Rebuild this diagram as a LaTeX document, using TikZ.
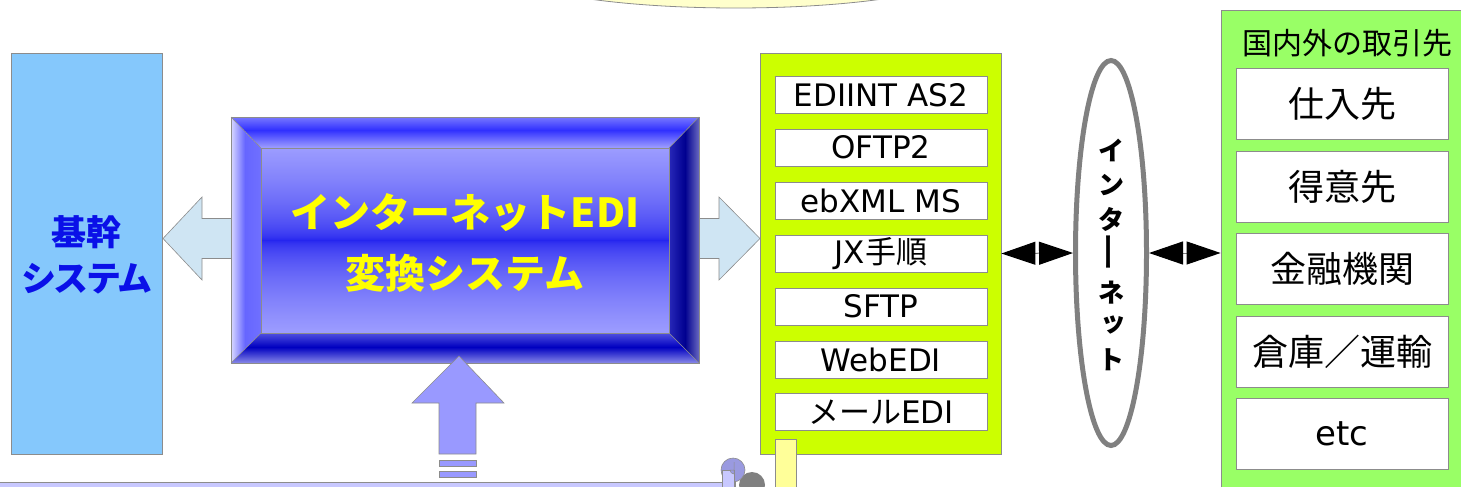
\documentclass[tikz,border=0pt]{standalone}
\usepackage{fontspec}
\setmainfont{DejaVu Sans}
\newfontfamily\jp{Noto Sans CJK JP}
\newfontfamily\jpp{Noto Sans CJK JP}[RawFeature=+palt]
\usetikzlibrary{arrows.meta,shapes.geometric}
\definecolor{skyc}{HTML}{85C8FC}
\definecolor{arrc}{HTML}{CFE5F3}
\definecolor{upc}{HTML}{9999FF}
\definecolor{limec}{HTML}{CCFF00}
\definecolor{grnc}{HTML}{99FF66}
\definecolor{ylwc}{HTML}{FFFF99}
\definecolor{crmc}{HTML}{FFFFCC}
\definecolor{scrc}{HTML}{C8C8FF}
\definecolor{scrd}{HTML}{9A9AE0}
\definecolor{bordc}{HTML}{8C8C8C}
\definecolor{txtyl}{HTML}{FFFF00}
\definecolor{txtbl}{HTML}{0A10E8}
\definecolor{tb1}{HTML}{7878FF}
\definecolor{tb2}{HTML}{3030FF}
\definecolor{tb3}{HTML}{A0A0FF}
\definecolor{lb1}{HTML}{D8D8FF}
\definecolor{lb2}{HTML}{6666FF}
\definecolor{lb3}{HTML}{7070FF}
\definecolor{bb1}{HTML}{5050E0}
\definecolor{bb2}{HTML}{0000C0}
\definecolor{bb3}{HTML}{8888E8}
\definecolor{rb1}{HTML}{2828B8}
\definecolor{rb2}{HTML}{000090}
\definecolor{rb3}{HTML}{6868C0}
\definecolor{in1}{HTML}{9C9CFF}
\definecolor{in2}{HTML}{1E1EEE}
\tikzset{
  ebox/.style={draw=bordc, fill=white, line width=0.8pt, minimum width=212, minimum height=37, inner sep=0pt, font=\fontsize{31}{31}\selectfont},
  pbox/.style={draw=bordc, fill=white, line width=0.8pt, minimum width=212, minimum height=71, inner sep=0pt, font=\fontsize{36}{36}\selectfont\jp},
  panel/.style={draw=bordc, line width=0.8pt, inner sep=0pt},
  blockarr/.style={draw=bordc, line width=0.6pt},
  dbl/.style={draw=gray, line width=1pt, arrows={Triangle[length=34pt,width=23pt,color=black]-Triangle[length=34pt,width=23pt,color=black]}},
  vch/.style={inner sep=0pt, font=\fontsize{26}{26}\selectfont\jp\bfseries}
}
\begin{document}
\begin{tikzpicture}[x=1pt,y=-1pt]
\useasboundingbox (0,0) rectangle (1461,487);
\clip (0,0) rectangle (1461,487);
% top cream ellipse (cut off)
\draw[fill=crmc, draw=bordc, line width=0.8pt] (736,-32) ellipse [x radius=232, y radius=40];
% left system box
\node[panel, fill=skyc, minimum width=151, minimum height=401] (kikan) at (86.5,253.5) {};
\node[inner sep=0pt, align=center, text=txtbl, font=\fontsize{35}{46}\selectfont\jpp\bfseries] (kikantxt) at (86.5,255) {基幹\\システム};
% block arrows left/right
\draw[blockarr, fill=arrc] (163,238.5) -- (202,197) -- (202,218.5) -- (235,218.5) -- (235,258.5) -- (202,258.5) -- (202,280) -- cycle;
\draw[blockarr, fill=arrc] (695,218.5) -- (719,218.5) -- (719,197) -- (760,238.5) -- (719,280) -- (719,258.5) -- (695,258.5) -- cycle;
% main beveled box: top bevel
\begin{scope}
\clip (231,117) -- (699,117) -- (669,148) -- (261,148) -- cycle;
\foreach \i in {0,...,13}{\pgfmathsetmacro\t{100*(13-\i)/13}\fill[tb1!\t!tb2] (225,117+\i) rectangle (705,118.3+\i);}
\foreach \i in {13,...,31}{\pgfmathsetmacro\t{100*(\i-13)/18}\fill[tb3!\t!tb2] (225,117+\i) rectangle (705,118.3+\i);}
\end{scope}
% left bevel
\begin{scope}
\clip (231,117) -- (261,148) -- (261,333) -- (231,363) -- cycle;
\foreach \i in {0,...,14}{\pgfmathsetmacro\t{100*(14-\i)/14}\fill[lb1!\t!lb2] (231+\i,110) rectangle (232.3+\i,370);}
\foreach \i in {14,...,30}{\pgfmathsetmacro\t{100*(\i-14)/16}\fill[lb3!\t!lb2] (231+\i,110) rectangle (232.3+\i,370);}
\end{scope}
% bottom bevel
\begin{scope}
\clip (231,363) -- (261,333) -- (669,333) -- (699,363) -- cycle;
\foreach \i in {0,...,14}{\pgfmathsetmacro\t{100*(14-\i)/14}\fill[bb1!\t!bb2] (225,333+\i) rectangle (705,334.3+\i);}
\foreach \i in {14,...,30}{\pgfmathsetmacro\t{100*(\i-14)/16}\fill[bb3!\t!bb2] (225,333+\i) rectangle (705,334.3+\i);}
\end{scope}
% right bevel
\begin{scope}
\clip (699,117) -- (669,148) -- (669,333) -- (699,363) -- cycle;
\foreach \i in {0,...,16}{\pgfmathsetmacro\t{100*(16-\i)/16}\fill[rb1!\t!rb2] (669+\i,110) rectangle (670.3+\i,370);}
\foreach \i in {16,...,30}{\pgfmathsetmacro\t{100*(\i-16)/14}\fill[rb3!\t!rb2] (669+\i,110) rectangle (670.3+\i,370);}
\end{scope}
% inner face
\foreach \i in {0,...,184}{\pgfmathsetmacro\t{100*((abs(\i-92)+0.5)/92.5)^0.55}\fill[in1!\t!in2] (261,148+\i) rectangle (669,149.3+\i);}
\draw[bordc, line width=0.8pt] (231,117) rectangle (699,363);
\draw[bordc, line width=0.8pt] (261,148) rectangle (669,333);
\draw[bordc, line width=0.6pt] (231,117) -- (261,148) (699,117) -- (669,148) (231,363) -- (261,333) (699,363) -- (669,333);
\node[inner sep=0pt, align=center, text=txtyl, font=\fontsize{40}{61}\selectfont\jp\bfseries] (main) at (465,243) {インターネットEDI\\変換システム};
% up arrow
\draw[blockarr, fill=upc] (459,356) -- (504,403) -- (476,403) -- (476,454) -- (439,454) -- (439,403) -- (412,403) -- cycle;
\draw[blockarr, fill=upc] (439,460) rectangle (476,466);
\draw[blockarr, fill=upc] (439,471) rectangle (476,477);
% bottom scroll
\fill[gray] (752,485) circle [radius=13];
\draw[draw=bordc, fill=scrc, line width=0.8pt] (-2,482) -- (735,482) -- (735,495) -- (-2,495) -- cycle;
\draw[draw=bordc, fill=scrd, line width=0.6pt] (733,470) circle [radius=12];
\draw[draw=bordc, fill=scrc, line width=0.5pt] (722,470) -- (734,470) -- (734,487) -- (722,487) -- cycle;
\draw[draw=bordc, fill=scrd, line width=0.5pt] (734,462) -- (734,470) -- (730,470) arc [start angle=180, end angle=90, radius=4] -- cycle;
% EDI protocol panel
\node[panel, fill=limec, minimum width=241, minimum height=401] (edi) at (880.5,253.5) {};
\node[ebox] (p1) at (881,95) {EDIINT AS2};
\node[ebox] (p2) at (881,147.5) {OFTP2};
\node[ebox] (p3) at (881,201) {ebXML MS};
\node[ebox] (p4) at (881,253.5) {JX{\jp 手順}};
\node[ebox] (p5) at (881,306.5) {SFTP};
\node[ebox] (p6) at (881,360) {WebEDI};
\node[ebox] (p7) at (881,412) {{\jp メール}EDI};
\draw[draw=bordc, fill=ylwc, line width=0.8pt] (775,439) rectangle (796,495);
% internet ellipse
\node[ellipse, draw=gray, line width=5pt, fill=white, minimum width=71, minimum height=385, inner sep=0pt] (inet) at (1111,253) {};
\node[vch] (c1) at (1111,150) {イ};
\node[vch] (c2) at (1111,185) {ン};
\node[vch] (c3) at (1111,219) {タ};
\node[vch, rotate=90] (c4) at (1111,252) {\scalebox{1.5}[0.8]{ー}};
\node[vch] (c5) at (1111,293) {ネ};
\node[vch] (c6) at (1113,325) {ッ};
\node[vch] (c7) at (1111,360) {ト};
% partner panel
\node[panel, fill=grnc, minimum width=249, minimum height=490] (partner) at (1345.5,255) {};
\node[inner sep=0pt, font=\fontsize{30}{30}\selectfont\jp] (ptitle) at (1347,43) {国内外の取引先};
\node[pbox] (q1) at (1342,104) {仕入先};
\node[pbox] (q2) at (1342,186.5) {得意先};
\node[pbox] (q3) at (1342,268.5) {金融機関};
\node[pbox] (q4) at (1342,351.5) {倉庫／運輸};
\node[pbox, font=\fontsize{34}{34}\selectfont] (q5) at (1342,433.5) {etc};
% double arrows
\draw[dbl] (edi.east) -- (inet.west);
\draw[dbl] (inet.east) -- (inet.east -| partner.west);
\end{tikzpicture}
\end{document}
